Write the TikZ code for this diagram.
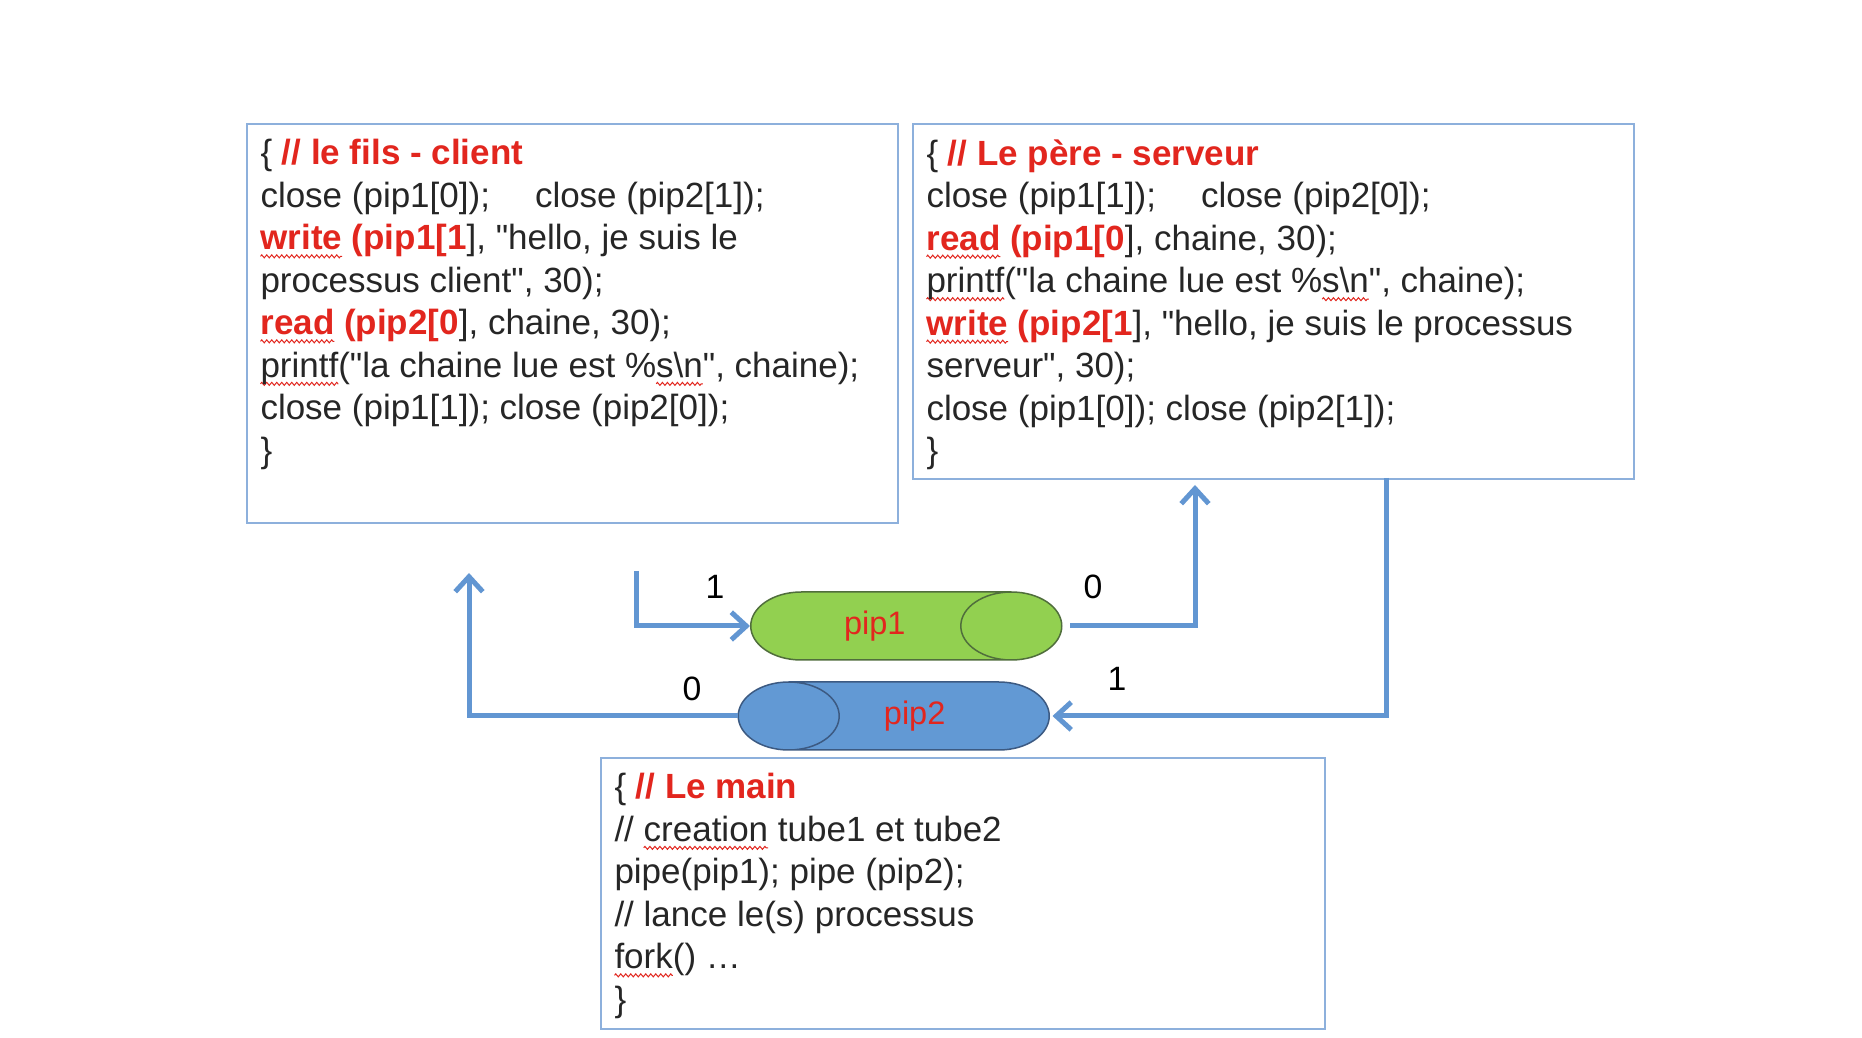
\documentclass[tikz,border=0pt]{standalone}
\usepackage{fontspec}
\setmainfont{Liberation Sans}
\usetikzlibrary{shapes.geometric,arrows.meta,decorations.pathmorphing}

\definecolor{boxblue}{RGB}{141,176,220}
\definecolor{arrowblue}{RGB}{98,150,210}
\definecolor{codered}{RGB}{226,38,30}
\definecolor{pipgreen}{RGB}{146,208,80}
\definecolor{pipgreenline}{RGB}{80,110,60}
\definecolor{pipblue}{RGB}{98,153,212}
\definecolor{pipblueline}{RGB}{60,90,130}

\newsavebox\squigbox
\newcommand\squig[1]{\sbox\squigbox{#1}%
  \makebox[0pt][l]{\tikz[overlay,baseline=0pt]\draw[codered, line width=0.4pt, decorate,
    decoration={zigzag, segment length=2pt, amplitude=0.6pt}] (0pt,-2.6pt) -- (\wd\squigbox,-2.6pt);}%
  \usebox\squigbox}
\newcommand\kw[1]{\textcolor{codered}{\textbf{#1}}}
\newcommand\q{\textquotedbl{}}

\begin{document}
\begin{tikzpicture}[x=0.4pt,y=-0.4pt]

\tikzset{codebox/.style = {draw=boxblue, line width=0.8pt, anchor=north west, inner sep=0pt},
  codetext/.style = {anchor=north west, align=left, inner sep=0pt, text=black!85,
    font=\fontsize{14}{17}\selectfont},
  pipe/.style = {cylinder, line width=0.6pt, aspect=2.15, minimum height=124.4pt,
    minimum width=27.2pt, font=\fontsize{13}{13}\selectfont, text=codered},
  flow/.style = {draw=arrowblue, line width=2pt, -{Straight Barb[length=6pt,width=11pt]}},
  endlabel/.style = {font=\fontsize{13.5}{13.5}\selectfont}}

\path[fill=white] (0,0) rectangle (1862,1038);

% les trois blocs de code
\node[codebox, minimum width=260.4pt, minimum height=159.6pt] (fils) at (246,123) {};
\node[codetext] (filscode) at ([shift={(14,16)}]fils.north west) {%
\{ \kw{// le fils - client}\\
close (pip1[0]);\hspace{18pt}close (pip2[1]);\\
\kw{\squig{write} (pip1[1}], \q hello, je suis le\\
processus client\q, 30);\\
\kw{\squig{read} (pip2[0}], chaine, 30);\\
\squig{printf}(\q la chaine lue est \%\squig{s\textbackslash n}\q, chaine);\\
close (pip1[1]); close (pip2[0]);\\
\}};

\node[codebox, minimum width=288.4pt, minimum height=142pt] (pere) at (912,123) {};
\node[codetext] (perecode) at ([shift={(14,16)}]pere.north west) {%
\{ \kw{// Le père - serveur}\\
close (pip1[1]);\hspace{18pt}close (pip2[0]);\\
\kw{\squig{read} (pip1[0}], chaine, 30);\\
\squig{printf}(\q la chaine lue est \%\squig{s\textbackslash n}\q, chaine);\\
\kw{\squig{write} (pip2[1}], \q hello, je suis le processus\\
serveur\q, 30);\\
close (pip1[0]); close (pip2[1]);\\
\}};

\node[codebox, minimum width=289.6pt, minimum height=108.4pt] (main) at (600,757) {};
\node[codetext] (maincode) at ([shift={(14,16)}]main.north west) {%
\{ \kw{// Le main}\\
// \squig{creation} tube1 et tube2\\
pipe(pip1); pipe (pip2);\\
// lance le(s) processus\\
\squig{fork}() \ldots\\
\}};

% les tubes
\node[pipe, fill=pipgreen, draw=pipgreenline, anchor=west] (pip1) at (750,626) {\hspace*{8.6pt}pip1};
\node[pipe, fill=pipblue, draw=pipblueline, shape border rotate=180, anchor=east] (pip2) at (1050,716) {pip2\hspace*{17pt}};

\coordinate (filswrite) at (636,571);
\coordinate (pereread) at (1195,485);
\coordinate (perewrite) at (1386,478);
\coordinate (filsread) at (469,573);

\draw[flow] (filswrite) |- (pip1.west);
\draw[flow] ([xshift=3pt]pip1.east) -| (pereread);
\draw[flow] (perewrite) |- ([xshift=1pt]pip2.east);
\draw[flow] (pip2.west) -| (filsread);

\node[endlabel] (w1) at (715,587) {1};
\node[endlabel] (r1) at (1093,587) {0};
\node[endlabel] (w2) at (1117,679) {1};
\node[endlabel] (r2) at (692,689) {0};

\end{tikzpicture}
\end{document}
